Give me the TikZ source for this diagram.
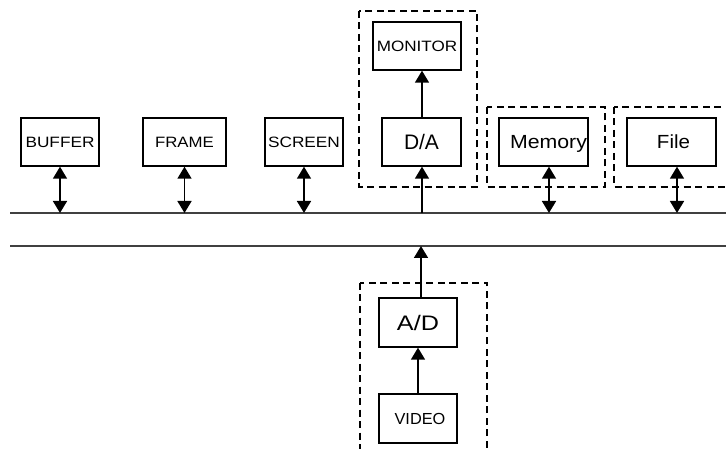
\documentclass[tikz,border=0pt]{standalone}
\usepackage{fontspec}
\setmainfont{Liberation Sans}
\usetikzlibrary{arrows.meta}
\newcommand\mylbl[3]{\fontsize{#1}{#1}\selectfont\scalebox{#2}[1]{#3}}
\begin{document}
\begin{tikzpicture}[x=1pt,y=-1pt,
  box/.style={draw,line width=1.4pt,inner sep=0pt,minimum height=48pt,text depth=0pt},
  grp/.style={draw,line width=1.5pt,dash pattern=on 7pt off 4.5pt},
  bus/.style={draw=black!75,line width=1.7pt},
  conn/.style={line width=1.6pt,-{Triangle[width=14pt,length=12pt]}},
  biconn/.style={line width=1.6pt,{Triangle[width=14pt,length=12pt]}-{Triangle[width=14pt,length=12pt]}}]
\useasboundingbox (0,0) rectangle (726,449);
\begin{scope}
\clip (0,0) rectangle (726,449);
% dashed groups
\draw[grp] (359,11) rectangle (477,187);
\draw[grp] (487,107) rectangle (605,187);
\draw[grp] (614,107) rectangle (760,187);
\draw[grp] (360,283) rectangle (487,480);
\end{scope}
% bus lines
\coordinate (b1l) at (10,213);
\coordinate (b1r) at (726,213);
\coordinate (b2l) at (10,246);
\coordinate (b2r) at (726,246);
\draw[bus] (b1l) -- (b1r);
\draw[bus] (b2l) -- (b2r);
% boxes
\node[box,minimum width=78pt] (buf) at (60,142) {\mylbl{15}{1.15}{BUFFER}};
\node[box,minimum width=83pt] (frm) at (184.5,142) {\mylbl{15}{1.12}{FRAME}};
\node[box,minimum width=78pt] (scr) at (304,142) {\mylbl{15}{1.15}{SCREEN}};
\node[box,minimum width=88pt] (mon) at (417,46) {\mylbl{15}{1.14}{MONITOR}};
\node[box,minimum width=79pt] (da) at (421.5,142) {\mylbl{21}{1.0}{D/A}};
\node[box,minimum width=89pt] (mem) at (543.5,142) {\hspace*{10pt}\mylbl{19}{1.12}{Memory}};
\node[box,minimum width=89pt] (fil) at (671.5,142) {\hspace*{4pt}\mylbl{19}{1.08}{File}};
\node[box,minimum width=78pt,minimum height=49pt] (ad) at (418,322.5) {\mylbl{21}{1.2}{A/D}};
\node[box,minimum width=78pt,minimum height=49pt] (vid) at (418,418.5) {\hspace*{4pt}\mylbl{16}{1.02}{VIDEO}};
% connectors
\draw[biconn] (buf.south) -- (buf.south |- b1l);
\draw[biconn] (frm.south) -- (frm.south |- b1l);
\draw[biconn] (scr.south) -- (scr.south |- b1l);
\draw[biconn] ([xshift=5.5pt]mem.south) -- ([xshift=5.5pt]mem.south |- b1l);
\draw[biconn] ([xshift=5.5pt]fil.south) -- ([xshift=5.5pt]fil.south |- b1l);
\draw[conn] ([xshift=0.5pt]da.south |- b1l) -- ([xshift=0.5pt]da.south);
\draw[conn] ([xshift=0.5pt]da.north) -- ([xshift=0.5pt]da.north |- mon.south);
\draw[conn] ([xshift=3pt]ad.north) -- ([xshift=3pt]ad.north |- b2l);
\draw[conn] (vid.north) -- (ad.south);
\end{tikzpicture}
\end{document}
